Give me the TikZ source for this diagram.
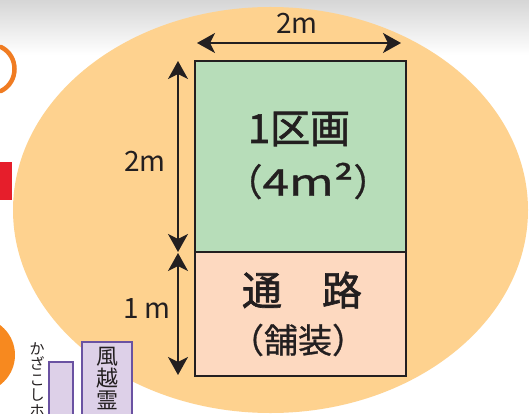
\documentclass[tikz,border=0pt]{standalone}
\usepackage{fontspec}
\usepackage{graphicx}
\setmainfont{Noto Sans CJK JP}
\newfontfamily\heavyjp[FakeBold=1.6]{Noto Sans CJK JP}
\newfontfamily\semijp[FakeBold=0.8]{Noto Sans CJK JP}
\usetikzlibrary{arrows.meta}
\definecolor{ovalc}{HTML}{FED28F}
\definecolor{plotc}{HTML}{B7DDB9}
\definecolor{pathc}{HTML}{FDD9C0}
\definecolor{inkc}{HTML}{231F20}
\definecolor{purpc}{HTML}{6A52A2}
\definecolor{lavc}{HTML}{DDD0E8}
\definecolor{orgc}{HTML}{F07C22}
\definecolor{org2c}{HTML}{F7891F}
\definecolor{redc}{HTML}{E61E2B}
\definecolor{topgray}{HTML}{D6D6D6}
\tikzset{
  box/.style={draw=inkc, line width=2.4pt, inner sep=0pt},
  dimline/.style={draw=inkc, line width=1.8pt, {Stealth[length=18pt,width=20pt,inset=5pt]}-{Stealth[length=18pt,width=20pt,inset=5pt]}},
  dimlabel/.style={inner sep=0pt, text=inkc, font=\fontsize{28}{28}\selectfont},
  bigtxt/.style={inner sep=0pt, text=inkc, font=\heavyjp\fontsize{40}{40}\selectfont},
  sign/.style={draw=purpc, fill=lavc, line width=2.4pt},
}
\begin{document}
\begin{tikzpicture}[x=1pt,y=-1pt]
\useasboundingbox (0,0) rectangle (529,414);
% background
\fill[white] (0,0) rectangle (529,414);
\shade[top color=topgray, bottom color=white] (0,0) rectangle (529,55);
% oval
\fill[ovalc] (270.5,210) ellipse [x radius=257.5, y radius=203];
% edge fragments
\draw[orgc, line width=4.5pt, line cap=round] (1,47) .. controls (19,56) and (19,82) .. (1,91);
\fill[redc] (0,162) rectangle (12,200);
\fill[org2c] (-22.5,355) circle [radius=37.5];
\path[sign] (49,362) rectangle (73,420);
\path[sign] (82,342) rectangle (132,420);
\node[inner sep=0pt, anchor=north, align=center, text=inkc, font=\fontsize{22}{22}\selectfont] (sign2) at (107,347) {風\\越\\霊};
\node[inner sep=0pt, anchor=north, align=center, text=inkc, font=\fontsize{15}{15.5}\selectfont] (sign1) at (37,342) {か\\ざ\\こ\\し\\ホ};
% plots
\node[box, fill=plotc, minimum width=211pt, minimum height=191pt] (plot) at (300.5,156.5) {};
\node[box, fill=pathc, minimum width=211pt, minimum height=124pt] (walk) at (300.5,314) {};
\node[bigtxt] (t1) at (299,129) {1区画};
\node[inner sep=0pt, text=inkc, font=\semijp\fontsize{37}{37}\selectfont] (t2) at (308,181) {（\scalebox{1.3}[1]{4m²}）};
\node[bigtxt] (t3) at (302,290) {通　路};
\node[inner sep=0pt, text=inkc, font=\semijp\fontsize{34}{34}\selectfont] (t4) at (298,340) {（舗装）};
% dimensions
\coordinate (hA) at (197,43);
\coordinate (hB) at (401,43);
\coordinate (vA) at (178,61);
\coordinate (vB) at (178,252);
\coordinate (vC) at (178,253);
\coordinate (vD) at (178,375);
\draw[dimline] (hA) -- (hB);
\draw[dimline] (vA) -- (vB);
\draw[dimline] (vC) -- (vD);
\node[dimlabel] (l1) at (297,23) {2m};
\node[dimlabel] (l2) at (145,161) {2m};
\node[dimlabel] (l3) at (147,309) {1\,m};
\end{tikzpicture}
\end{document}
